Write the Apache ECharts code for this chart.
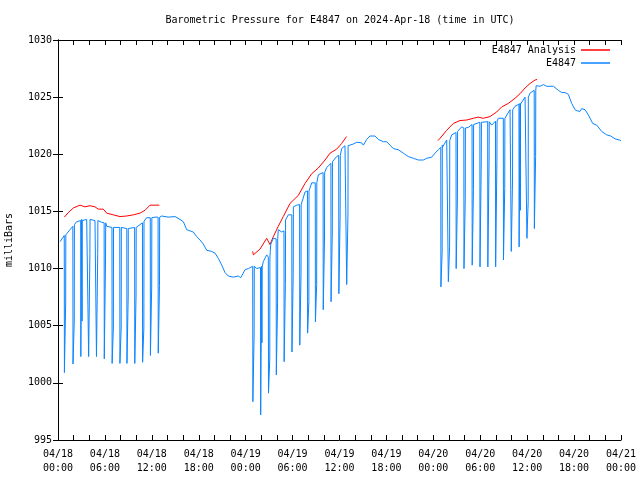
<!DOCTYPE html>
<html><head><meta charset="utf-8">
<script src="https://cdn.jsdelivr.net/npm/echarts@6/dist/echarts.min.js"></script>
<style>html,body{margin:0;padding:0;background:#fff}#c{width:640px;height:480px}</style>
</head><body><div id="c"></div>
<script>
const titleText = 'Barometric Pressure for E4847 on 2024-Apr-18 (time in UTC)';
const yName = 'milliBars';
const seriesNames = ['E4847 Analysis', 'E4847'];
// x axis: hours since 04/18 00:00 UTC
const xTickLabels = ['04/18\n00:00','04/18\n06:00','04/18\n12:00','04/18\n18:00',
  '04/19\n00:00','04/19\n06:00','04/19\n12:00','04/19\n18:00',
  '04/20\n00:00','04/20\n06:00','04/20\n12:00','04/20\n18:00','04/21\n00:00'];
const yMin = 995, yMax = 1030, yStep = 5;

// E4847 smooth level [hour, mb]
const e4847Level = [
 [0.26,1012.35],[1.0,1012.95],[1.53,1013.4],[2.1,1013.85],[2.39,1014.1],[3.03,1014.3],[3.67,1014.3],
 [4.73,1014.2],[5.59,1014.05],[6.23,1013.7],[7.29,1013.6],[8.15,1013.6],[8.99,1013.5],[10.07,1013.7],
 [11.0,1014.15],[11.34,1014.45],[12.41,1014.5],[13.26,1014.6],[14.1,1014.5],[14.96,1014.55],[15.6,1014.3],
 [16.03,1014.1],[16.46,1013.4],[16.66,1013.3],[17.3,1013.2],[17.74,1012.8],[18.16,1012.5],[18.58,1012.15],
 [19.02,1011.6],[19.66,1011.5],[20.08,1011.35],[20.5,1010.9],[20.94,1010.3],[21.36,1009.65],[21.78,1009.35],
 [22.42,1009.25],[23.06,1009.35],[23.37,1009.2],[23.92,1009.9],[24.34,1010.0],[25.1,1010.2],[25.41,1010.0],
 [26.05,1010.2],[26.25,1010.6],[26.69,1011.2],[27.2,1012.1],[27.53,1012.65],[28.17,1013.4],[28.61,1013.2],
 [29.1,1014.25],[29.45,1014.7],[30.1,1015.4],[30.53,1015.55],[30.75,1015.7],[31.59,1016.7],[32.45,1017.5],
 [33.29,1018.2],[34.36,1018.85],[35.1,1019.35],[35.64,1019.8],[36.28,1020.5],[36.7,1020.75],[37.34,1020.6],
 [37.77,1020.9],[38.2,1021.05],[38.84,1021.0],[39.05,1020.8],[39.48,1021.3],[39.9,1021.6],[40.54,1021.6],
 [40.96,1021.3],[41.6,1021.1],[42.04,1021.1],[42.46,1020.8],[42.88,1020.5],[43.52,1020.4],[44.16,1020.1],
 [44.8,1019.8],[45.44,1019.65],[46.08,1019.5],[46.72,1019.5],[47.15,1019.65],[47.79,1019.75],[48.22,1020.1],
 [48.64,1020.4],[49.15,1020.8],[49.71,1021.25],[50.35,1021.7],[51.1,1022.0],[51.63,1022.4],[52.47,1022.35],
 [53.33,1022.7],[54.19,1022.85],[55.15,1022.85],[55.46,1022.55],[56.31,1023.15],[57.17,1023.15],[57.81,1023.9],
 [58.45,1024.2],[59.09,1024.45],[59.73,1025.0],[60.37,1025.35],[61.15,1026.0],[61.65,1025.95],[62.07,1026.1],
 [62.5,1025.95],[63.35,1025.95],[63.99,1025.6],[64.42,1025.4],[64.84,1025.4],[65.26,1025.25],[65.7,1024.45],
 [66.12,1023.9],[66.42,1023.8],[66.76,1023.75],[66.98,1024.0],[67.4,1023.9],[67.82,1023.45],[68.38,1022.7],
 [68.9,1022.55],[69.53,1022.0],[70.17,1021.7],[70.68,1021.6],[71.24,1021.35],[71.79,1021.25],[72.0,1021.2]
];
// E4847 hourly drop-outs [hour, level before, lowest, intermediate]
const e4847Dips = [
 [0.8,1012.9,1000.9,1007.0],[1.9,1013.7,1001.65,1005.4],[2.9,1014.2,1002.3,1005.4],[3.9,1014.3,1002.3,1011.3],
 [4.9,1014.2,1002.3,1011.3],[5.9,1014.0,1002.1,1011.0],[6.9,1013.6,1001.7,1004.8],[7.9,1013.6,1001.7,1004.8],
 [8.8,1013.5,1001.7,1007.6],[9.8,1013.6,1001.7,1007.6],[10.8,1014.0,1001.8,1004.8],[11.8,1014.45,1002.4,1008.4],
 [12.8,1014.5,1002.6,1008.5],
 [24.9,1010.2,998.35,1004.2],[25.9,1010.1,997.2,1003.5],[26.9,1011.0,999.1,1002.1],[27.9,1012.6,1000.7,1007.0],
 [28.9,1013.3,1001.85,1008.6],[29.9,1014.7,1002.7,1009.6],[30.9,1015.6,1003.3,1009.45],[31.9,1016.8,1004.35,1007.1],
 [32.9,1017.5,1005.35,1008.6],[33.9,1018.4,1006.4,1012.5],[34.9,1019.2,1007.1,1013.2],[35.9,1019.9,1007.8,1014.7],
 [36.9,1020.75,1008.6,1014.7],
 [48.95,1020.6,1008.4,1011.5],[49.9,1021.2,1008.85,1011.9],[50.9,1021.9,1010.0,1016.1],[51.9,1022.3,1010.0,1016.1],
 [52.95,1022.6,1010.3,1016.9],[53.95,1022.8,1010.15,1019.5],[54.95,1022.85,1010.15,1019.5],[55.95,1022.9,1010.15,1019.4],
 [56.95,1023.15,1010.75,1017.0],[57.95,1023.9,1011.5,1017.75],[58.95,1024.4,1011.9,1015.1],[59.95,1025.0,1012.65,1015.85],
 [60.9,1025.6,1013.5,1019.8]
];
// E4847 Analysis segments [hour, mb]
const analysisDay1 = [
 [0.81,1014.5],[1.32,1014.9],[1.96,1015.3],[2.81,1015.55],[3.45,1015.4],[4.09,1015.5],[4.73,1015.4],[5.15,1015.2],
 [5.79,1015.2],[6.23,1014.85],[7.07,1014.7],[7.93,1014.55],[8.79,1014.6],[9.63,1014.7],[10.49,1014.85],[11.13,1015.1],
 [11.77,1015.55],[12.41,1015.55],[12.96,1015.55]
];
const analysisDay2 = [
 [24.9,1011.5],[24.98,1011.2],[25.83,1011.7],[26.69,1012.65],[27.11,1012.1],[27.54,1012.8],[28.17,1013.7],
 [28.81,1014.55],[29.67,1015.7],[30.73,1016.4],[31.59,1017.45],[32.45,1018.3],[33.29,1018.8],[34.15,1019.5],
 [34.79,1020.1],[35.64,1020.45],[36.28,1020.95],[36.9,1021.55]
];
const analysisDay3 = [
 [48.6,1021.2],[48.86,1021.4],[49.71,1022.1],[50.56,1022.7],[51.41,1022.95],[52.27,1023.0],[53.11,1023.15],
 [53.75,1023.25],[54.39,1023.15],[55.25,1023.3],[56.1,1023.7],[56.75,1024.15],[57.59,1024.45],[58.45,1024.9],
 [59.09,1025.3],[59.73,1025.8],[60.37,1026.2],[61.01,1026.5],[61.27,1026.55]
];

const bluePts = e4847Level.map(p => [p[0], p[1]]);
e4847Dips.forEach(d => {
  bluePts.push([d[0], d[1]], [d[0] + 0.02, d[2]], [d[0] + 0.18, d[3]], [d[0] + 0.2, d[1]]);
});
bluePts.sort((a, b) => a[0] - b[0]);

const FONT = 'DejaVu Sans Mono';
const RED = '#ff0000', BLUE = '#0a84ff';
const chart = echarts.init(document.getElementById('c'), null, {renderer: 'canvas'});
const axisLine = {show: true, lineStyle: {color: '#000', width: 1}};
const tick = {show: true, inside: true, length: 5, lineStyle: {color: '#000', width: 1}};
const xBase = {type: 'value', min: 0, max: 72, interval: 2, splitLine: {show: false}, axisLine: axisLine, axisTick: tick};
const yBase = {type: 'value', min: yMin, max: yMax, interval: yStep, splitLine: {show: false}, axisLine: axisLine, axisTick: tick};
const analysisStyle = {type: 'line', name: seriesNames[0], showSymbol: false, symbol: 'none',
  lineStyle: {color: RED, width: 1}, itemStyle: {color: RED}, animation: false};
chart.setOption({
  backgroundColor: '#fff',
  animation: false,
  title: {text: titleText, left: 335, textAlign: 'center', top: 10,
    textStyle: {fontFamily: FONT, fontSize: 10, fontWeight: 'normal', color: '#000'}},
  legend: {data: seriesNames, orient: 'vertical', right: 25, top: 40, align: 'right', icon: 'rect',
    itemWidth: 29, itemHeight: 1.5, itemGap: 3,
    textStyle: {fontFamily: FONT, fontSize: 10, color: '#000'}},
  grid: {left: 58, right: 19, top: 40, bottom: 40, containLabel: false, outerBoundsMode: 'none'},
  xAxis: [
    Object.assign({}, xBase, {position: 'bottom',
      axisLabel: {margin: 7, fontFamily: FONT, fontSize: 10, color: '#000', lineHeight: 14,
        formatter: v => (v % 6 === 0 ? xTickLabels[v / 6] : '')}}),
    Object.assign({}, xBase, {position: 'top', axisLabel: {show: false}})
  ],
  yAxis: [
    Object.assign({}, yBase, {position: 'left', name: yName, nameLocation: 'middle', nameRotate: 90, nameGap: 44,
      nameTextStyle: {fontFamily: FONT, fontSize: 10, color: '#000'},
      axisLabel: {margin: 6, fontFamily: FONT, fontSize: 10, color: '#000', formatter: v => String(v)}}),
    Object.assign({}, yBase, {position: 'right', axisLabel: {show: false}})
  ],
  series: [
    Object.assign({}, analysisStyle, {data: analysisDay1}),
    Object.assign({}, analysisStyle, {data: analysisDay2}),
    Object.assign({}, analysisStyle, {data: analysisDay3}),
    {type: 'line', name: seriesNames[1], showSymbol: false, symbol: 'none', data: bluePts,
      lineStyle: {color: BLUE, width: 1}, itemStyle: {color: BLUE}, animation: false}
  ]
});
</script></body></html>
